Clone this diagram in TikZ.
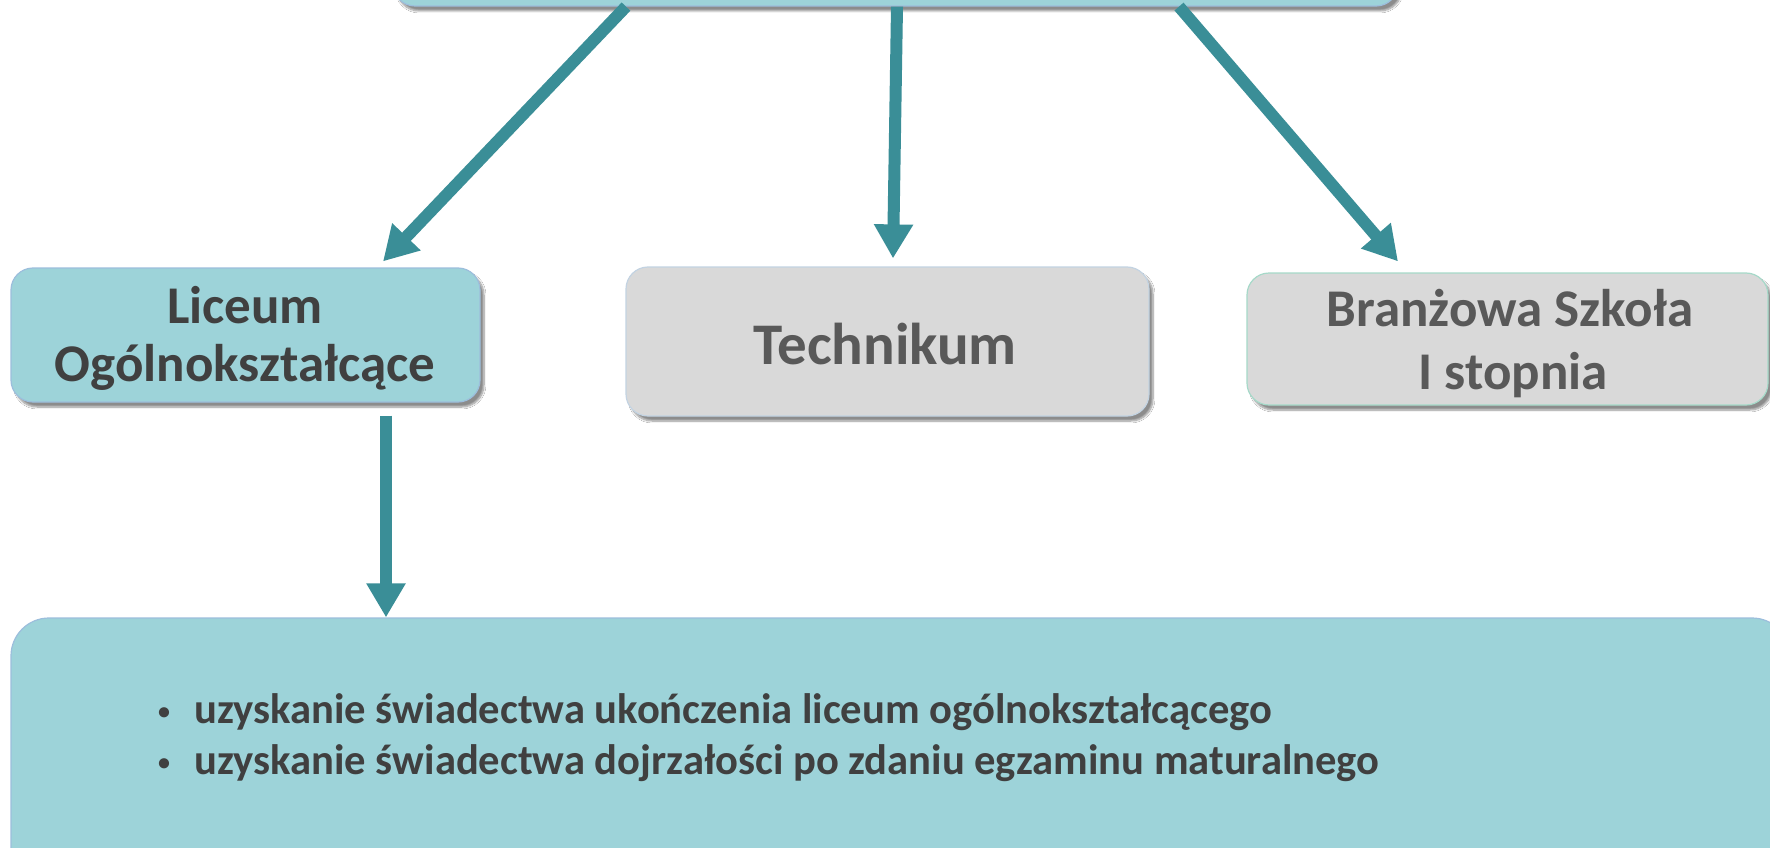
\documentclass[tikz,border=0pt]{standalone}
\usepackage{fontspec}
\setmainfont{Carlito}
\usetikzlibrary{arrows.meta,shadows.blur,calc}
\definecolor{tealfill}{HTML}{9DD3D9}
\definecolor{grayfill}{HTML}{D9D9D9}
\definecolor{arrowcol}{HTML}{3A8E97}
\definecolor{txtdark}{HTML}{404040}
\definecolor{txtgray}{HTML}{595959}
\definecolor{bordblue}{HTML}{9CBEDC}
\definecolor{bordgray}{HTML}{C3D3E2}
\definecolor{bordmint}{HTML}{A6D9C9}
\tikzset{
  boxbase/.style={rounded corners=22pt, inner sep=0pt,
    blur shadow={shadow xshift=4pt, shadow yshift=-5pt, shadow blur steps=8, shadow opacity=45}},
  tealbox/.style={boxbase, fill=tealfill, draw=bordblue, line width=1.2pt},
  graybox/.style={boxbase, fill=grayfill, line width=1.2pt},
  lbl/.style={anchor=base, inner sep=0pt, font=\bfseries\fontsize{53}{53}\selectfont},
  arr/.style={draw=arrowcol, line width=12pt, -{Triangle[width=37pt,length=34pt]}},
  bullettext/.style={anchor=base west, inner sep=0pt, font=\bfseries\fontsize{42.6}{50}\selectfont, text=txtdark},
  bulletmark/.style={anchor=base, inner sep=0pt, font=\bfseries\fontsize{24}{24}\selectfont, text=txtdark}
}
\begin{document}
\begin{tikzpicture}[x=1pt,y=-1pt]
\clip (0,0) rectangle (1770,848);
\fill[white] (0,0) rectangle (1770,848);
% top box (partially visible)
\node[tealbox, minimum width=1005pt, minimum height=80pt] (top) at (895.5,-34) {};
% level boxes
\node[tealbox, minimum width=469pt, minimum height=134pt] (lic) at (245.5,335) {};
\node[graybox, draw=bordgray, minimum width=523pt, minimum height=149pt] (tech) at (887.5,341.5) {};
\node[graybox, draw=bordmint, minimum width=521pt, minimum height=132pt] (bran) at (1507.5,339) {};
\node[lbl, text=txtdark] (lic1) at (245,323) {Liceum};
\node[lbl, text=txtdark] (lic2) at (245,381) {Ogólnokształcące};
\node[lbl, text=txtgray, font=\bfseries\fontsize{59}{59}\selectfont] (tech1) at (885,364) {Technikum};
\node[lbl, text=txtgray] (bran1) at (1510,326) {Branżowa Szkoła};
\node[lbl, text=txtgray] (bran2) at (1513,389) {I stopnia};
% bottom box
\node[tealbox, rounded corners=38pt, minimum width=1779pt, minimum height=282pt] (bot) at (900.5,759) {};
\node[bulletmark] (m1) at (164,719) {•};
\node[bulletmark] (m2) at (164,770) {•};
\node[bullettext] (b1) at (194,723) {uzyskanie świadectwa ukończenia liceum ogólnokształcącego};
\node[bullettext] (b2) at (194,774) {uzyskanie świadectwa dojrzałości po zdaniu egzaminu maturalnego};
% arrows
\draw[arr] ([xshift=-269.5pt]top.south) -- ([xshift=137.5pt,yshift=6pt]lic.north);
\draw[arr] ([xshift=1.5pt]top.south) -- ([xshift=5.5pt,yshift=8pt]tech.north);
\draw[arr] ([xshift=283.5pt]top.south) -- ([xshift=-109.5pt,yshift=11pt]bran.north);
\coordinate (dstart) at ([xshift=140.5pt,yshift=-13pt]lic.south);
\draw[arr] (dstart) -- (dstart |- bot.north);
\end{tikzpicture}
\end{document}
